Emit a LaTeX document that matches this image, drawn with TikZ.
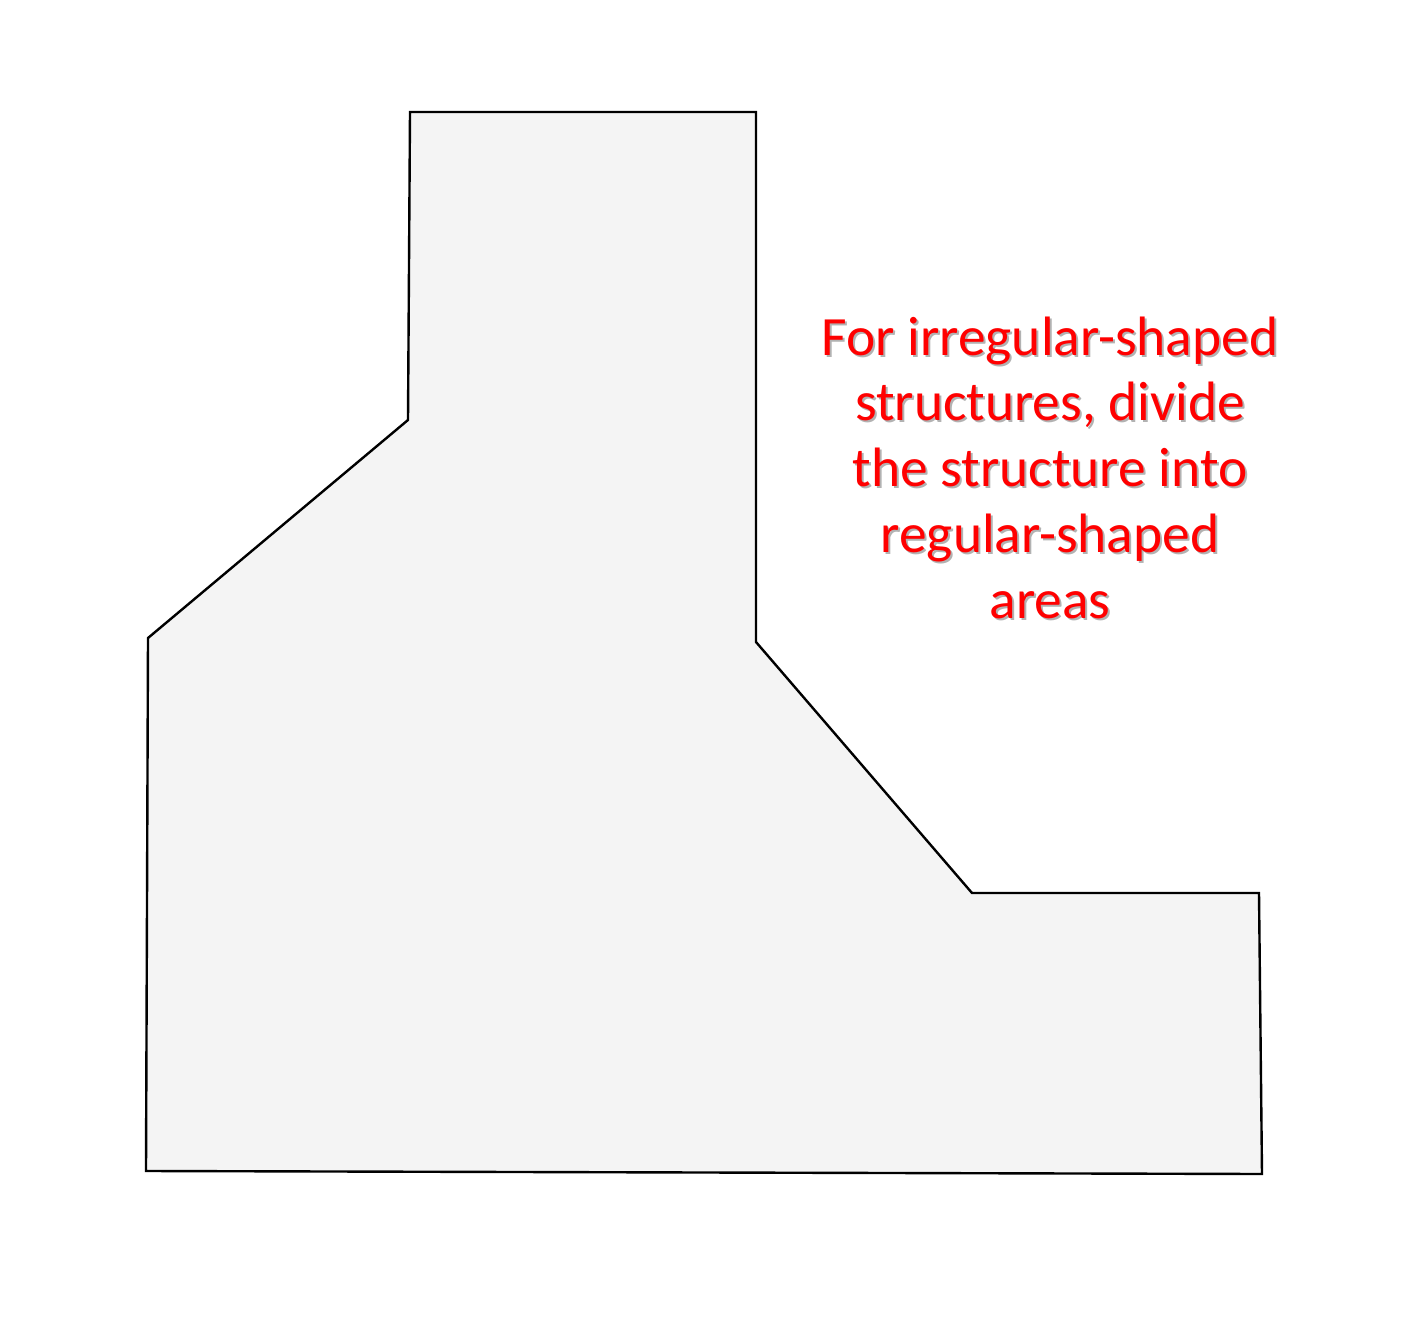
\documentclass[tikz,border=0pt]{standalone}
\usepackage{fontspec}
\setmainfont{Carlito}
\definecolor{shapefill}{HTML}{F4F4F4}
\definecolor{txtred}{HTML}{FF0000}
\tikzset{
  outline/.style={draw=black, line width=1.8pt, fill=shapefill, line join=miter},
  note/.style={text=txtred, font=\fontsize{41.6}{49.3}\selectfont, align=center, inner sep=0pt, anchor=base},
  noteshadow/.style={note, text=black!30}
}
\begin{document}
\begin{tikzpicture}[x=0.75pt,y=-0.75pt]
\useasboundingbox (0,0) rectangle (1422,1320);
\coordinate (p1) at (410,112);
\coordinate (p2) at (756,112);
\coordinate (p3) at (756,642);
\coordinate (p4) at (972,893);
\coordinate (p5) at (1259,893);
\coordinate (p6) at (1262,1174);
\coordinate (p7) at (146,1171);
\coordinate (p8) at (148,638);
\coordinate (p9) at (408,420);
\draw[outline] (p1) -- (p2) -- (p3) -- (p4) -- (p5) -- (p6) -- (p7) -- (p8) -- (p9) -- cycle;
\node[noteshadow] (shadow) at (1052,620) {For irregular-shaped\\structures, divide\\the structure into\\regular-shaped\\areas};
\node[note] (text) at (1050,618) {For irregular-shaped\\structures, divide\\the structure into\\regular-shaped\\areas};
\end{tikzpicture}
\end{document}
